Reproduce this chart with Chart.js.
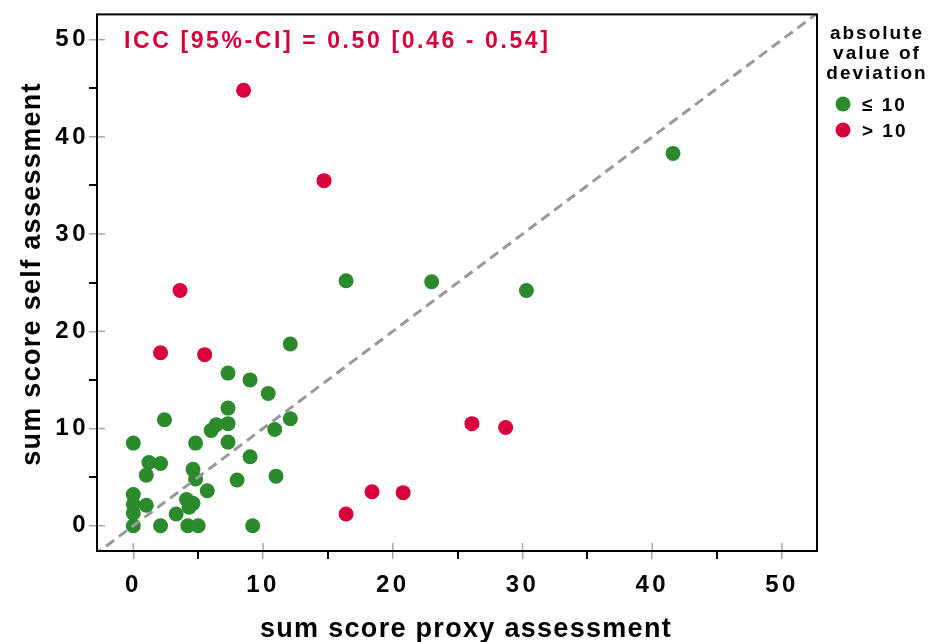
<!DOCTYPE html>
<html>
<head>
<meta charset="utf-8">
<script src="https://cdn.jsdelivr.net/npm/chart.js@4/dist/chart.umd.min.js"></script>
<style>
  html, body { margin: 0; padding: 0; background: #fff; }
  #wrap { width: 928px; height: 642px; }
</style>
</head>
<body>
<div id="wrap"><canvas id="chart"></canvas></div>
<script>
// values
const greenProxy = [41.6, 16.4, 23.0, 30.3, 12.1, 7.3, 9.0, 10.4, 7.3, 2.4, 12.1, 7.3, 6.4, 6.0, 10.9, 0, 4.8, 7.3, 9.0, 1.2, 2.1, 4.6, 1.0, 4.8, 11.0, 8.0, 5.7, 0, 0, 0, 0, 1.0, 4.1, 4.6, 4.3, 3.3, 2.1, 4.2, 5.0, 9.2];
const greenSelf  = [38.3, 25.2, 25.1, 24.2, 18.7, 15.7, 15.0, 13.6, 12.1, 10.9, 11.0, 10.5, 10.4, 9.8, 9.9, 8.5, 8.5, 8.6, 7.1, 6.5, 6.4, 5.8, 5.2, 4.8, 5.1, 4.7, 3.6, 3.2, 2.2, 1.3, 0, 2.1, 2.7, 2.3, 1.9, 1.2, 0, 0, 0, 0];
const redProxy = [8.5, 14.7, 3.6, 2.1, 5.5, 26.1, 28.7, 18.4, 20.8, 16.4];
const redSelf  = [44.8, 35.5, 24.2, 17.8, 17.6, 10.5, 10.1, 3.5, 3.4, 1.2];

const axisTicks = [0, 5, 10, 15, 20, 25, 30, 35, 40, 45, 50];
const labeledTicks = [0, 10, 20, 30, 40, 50];
const identityLine = [-10, 60];

const groupLabels = ['\u2264 10', '> 10'];
const legendTitle = ['absolute', 'value of', 'deviation'];
const iccText = 'ICC [95%-CI] = 0.50 [0.46 - 0.54]';
const xTitle = 'sum score proxy assessment';
const yTitle = 'sum score self assessment';

const GREEN = '#2b8a2b';
const RED = '#d7003a';
const FONT = "'Liberation Sans', Arial, Helvetica, sans-serif";

const toPoints = (xs, ys) => xs.map((x, i) => ({ x: x, y: ys[i] }));

function tickColor(c) { return c.tick.value % 10 === 0 ? '#a8a8a8' : '#000'; }
function tickWidth(c) { return c.tick.value % 10 === 0 ? 1.5 : 2; }

function axisOptions(min, max, pad, fitFn) {
  return {
    type: 'linear',
    min: min,
    max: max,
    afterBuildTicks: s => { s.ticks = axisTicks.map(v => ({ value: v })); },
    afterFit: fitFn,
    border: { display: false },
    grid: { drawOnChartArea: false, drawTicks: true, tickLength: 8, color: tickColor, lineWidth: tickWidth },
    ticks: {
      autoSkip: false, maxRotation: 0, color: '#000', padding: pad,
      font: { family: FONT, size: 24, weight: 'bold' },
      callback: v => (labeledTicks.includes(v) ? String(v) : '')
    }
  };
}

const decorations = {
  id: 'decorations',
  beforeDraw(chart) { chart.ctx.letterSpacing = '3.5px'; },
  afterDraw(chart) {
    const { ctx, chartArea: a, scales } = chart;
    ctx.save();
    // short grey ticks inside the box
    ctx.strokeStyle = '#a8a8a8';
    ctx.lineWidth = 1.5;
    labeledTicks.forEach(v => {
      const px = scales.x.getPixelForValue(v);
      ctx.beginPath(); ctx.moveTo(px, a.bottom); ctx.lineTo(px, a.bottom - 8); ctx.stroke();
      const py = scales.y.getPixelForValue(v);
      ctx.beginPath(); ctx.moveTo(a.left, py); ctx.lineTo(a.left + 8, py); ctx.stroke();
    });
    // box
    ctx.strokeStyle = '#000';
    ctx.lineWidth = 2;
    ctx.strokeRect(a.left, a.top, a.right - a.left, a.bottom - a.top);

    // ICC annotation
    ctx.fillStyle = RED;
    ctx.font = 'bold 23px ' + FONT;
    ctx.letterSpacing = '2.6px';
    ctx.textAlign = 'left';
    ctx.textBaseline = 'alphabetic';
    ctx.fillText(iccText, 124, 48);

    // axis titles
    ctx.fillStyle = '#000';
    ctx.font = 'bold 27px ' + FONT;
    ctx.letterSpacing = '1.3px';
    ctx.textAlign = 'center';
    ctx.fillText(xTitle, 466, 637);
    ctx.save();
    ctx.translate(40, 274);
    ctx.rotate(-Math.PI / 2);
    ctx.fillText(yTitle, 0, 0);
    ctx.restore();

    // legend
    ctx.font = 'bold 19px ' + FONT;
    ctx.letterSpacing = '2px';
    legendTitle.forEach((t, i) => ctx.fillText(t, 877, 39 + i * 20));
    ctx.textAlign = 'left';
    ctx.font = 'bold 19px ' + FONT;
    chart.data.datasets.filter(d => d.type === 'scatter').forEach((d, i) => {
      const cy = 104 + i * 26;
      ctx.fillStyle = d.backgroundColor;
      ctx.beginPath(); ctx.arc(843, cy, 7.5, 0, Math.PI * 2); ctx.fill();
      ctx.fillStyle = '#000';
      ctx.fillText(d.label, 862, cy + 7);
    });
    ctx.letterSpacing = '0px';
    ctx.restore();
  }
};

new Chart(document.getElementById('chart'), {
  type: 'scatter',
  data: {
    datasets: [
      {
        type: 'line',
        data: toPoints(identityLine, identityLine),
        borderColor: '#999999',
        borderWidth: 3,
        borderDash: [10, 6],
        pointRadius: 0,
        fill: false,
        order: 0
      },
      {
        type: 'scatter',
        label: groupLabels[0],
        data: toPoints(greenProxy, greenSelf),
        backgroundColor: GREEN,
        borderWidth: 0,
        pointRadius: 7.5,
        order: 1
      },
      {
        type: 'scatter',
        label: groupLabels[1],
        data: toPoints(redProxy, redSelf),
        backgroundColor: RED,
        borderWidth: 0,
        pointRadius: 7.5,
        order: 1
      }
    ]
  },
  options: {
    responsive: true,
    maintainAspectRatio: false,
    animation: false,
    layout: { padding: { top: 14, right: 111, left: 0, bottom: 0 } },
    plugins: { legend: { display: false }, tooltip: { enabled: false } },
    scales: {
      x: axisOptions(-2.8, 52.7, 12, s => { s.height = 91; }),
      y: axisOptions(-2.6, 52.6, 0, s => { s.width = 97; })
    }
  },
  plugins: [decorations]
});
</script>
</body>
</html>
